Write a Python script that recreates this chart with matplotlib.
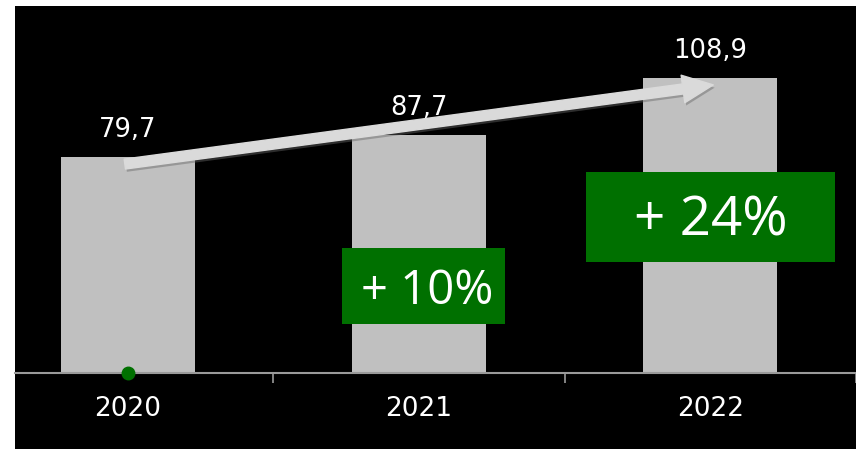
import matplotlib
matplotlib.use("Agg")
import matplotlib.pyplot as plt
from matplotlib.patches import Rectangle
from matplotlib import patheffects as pe

plt.rcParams['font.family'] = ['DejaVu Sans']

years = ['2020', '2021', '2022']
values = [79.7, 87.7, 108.9]
growth_labels = ['+ 10%', '+ 24%']

BAR = '#c0c0c0'
GREEN = '#007000'
AXIS = '#9a9a9a'

fig = plt.figure(figsize=(8.56, 4.49), dpi=100, facecolor='white')
ax = fig.add_axes([15 / 856, 0, 841 / 856, 443 / 449])
ax.set_facecolor('black')

x = list(range(len(years)))
ax.bar(x, values, width=0.46, color=BAR, zorder=2)

ax.set_xlim(-0.387, 2.5)
ax.set_ylim(-28, 135.4)

for s in ['top', 'right', 'left']:
    ax.spines[s].set_visible(False)
ax.spines['bottom'].set_position(('data', 0))
ax.spines['bottom'].set_color(AXIS)
ax.spines['bottom'].set_linewidth(1.5)
ax.spines['bottom'].set_zorder(3)
ax.set_yticks([])

ax.set_xticks([0.5, 1.5, 2.5])
ax.set_xticklabels([])
ax.tick_params(axis='x', which='major', direction='out', length=7, width=1.2, color=AXIS)
ax.set_xticks(x, minor=True)
ax.set_xticklabels(years, minor=True)
ax.tick_params(axis='x', which='minor', length=0, pad=16.5, labelsize=19, labelcolor='white')

# value labels above bars
for xi, v in zip(x, values):
    ax.annotate(f'{v:.1f}'.replace('.', ','), xy=(xi, v), xytext=(0, 14.5),
                textcoords='offset points', ha='center', va='baseline',
                color='white', fontsize=18.5, zorder=5)

# trend arrow
ax.annotate('', xy=(2.01, 106.3), xytext=(-0.01, 77.1),
            arrowprops=dict(arrowstyle='simple,head_length=1.1,head_width=1.0,tail_width=0.36',
                            mutation_scale=20, color='#dadada', shrinkA=0, shrinkB=0,
                            path_effects=[pe.withSimplePatchShadow(offset=(1.0, -2.0),
                                                                   shadow_rgbFace='#666666',
                                                                   alpha=0.45)]),
            zorder=4)

# growth boxes
boxes = [((0.734, 18.1), 0.562, 28.0, (1.029, 25.5), 34),
         ((1.574, 41.0), 0.853, 33.2, (2.002, 50.6), 39.5)]
for (xy, w, h, tpos, fs), lab in zip(boxes, growth_labels):
    ax.add_patch(Rectangle(xy, w, h, facecolor=GREEN, edgecolor='none', zorder=6, clip_on=False))
    ax.text(tpos[0], tpos[1], lab, ha='center', va='baseline', color='white',
            fontsize=fs, family=['Open Sans', 'DejaVu Sans'], zorder=7)

# base marker
ax.plot([0], [0], 'o', color=GREEN, markersize=9, zorder=6, clip_on=False)

fig.savefig('out.png', dpi=100, facecolor='white')
